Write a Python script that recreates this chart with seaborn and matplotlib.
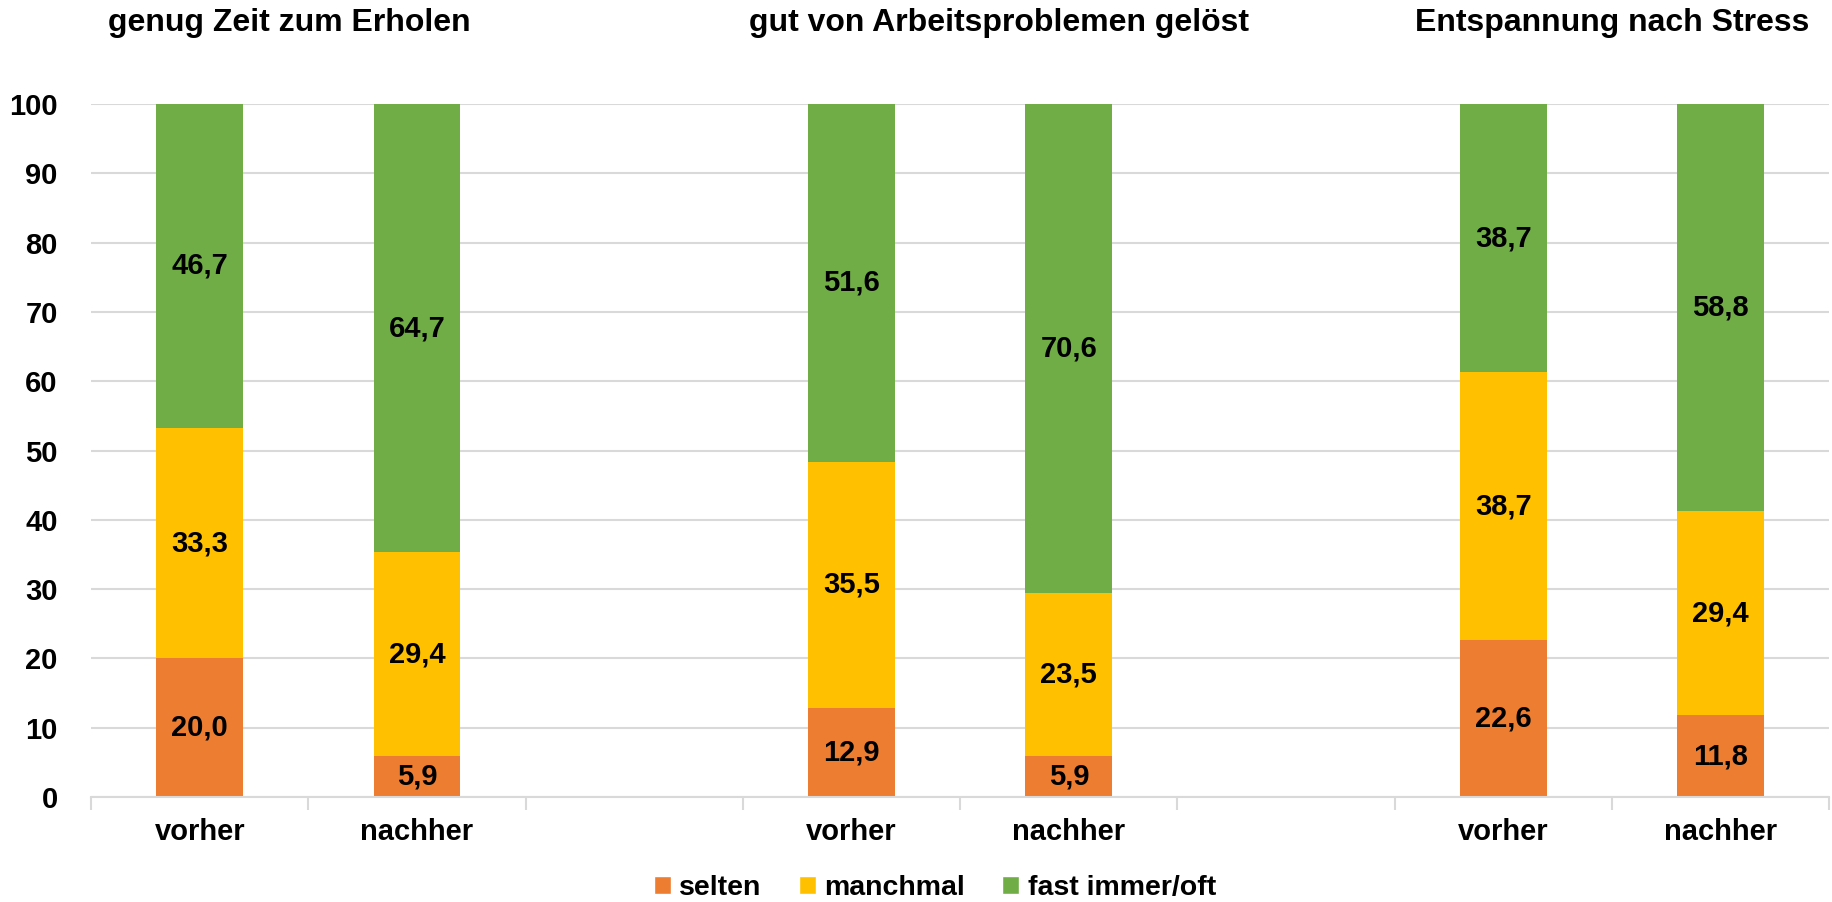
"""Gestapelte Balken: vorher / nachher für drei Erholungs-Items (Prozent)"""

import numpy as np
import pandas as pd
import matplotlib
matplotlib.use('Agg')
import matplotlib.pyplot as plt
import matplotlib.transforms as mtransforms
from matplotlib.patches import Patch
import seaborn as sns

# Daten
gruppen = ['genug Zeit zum Erholen', 'gut von Arbeitsproblemen gelöst', 'Entspannung nach Stress']
zeitpunkte = ['vorher', 'nachher']
selten = [20.0, 5.9, 12.9, 5.9, 22.6, 11.8]
manchmal = [33.3, 29.4, 35.5, 23.5, 38.7, 29.4]
fast_immer = [46.7, 64.7, 51.6, 70.6, 38.7, 58.8]
serien = ['selten', 'manchmal', 'fast immer/oft']
farben = ['#ED7D31', '#FFC000', '#70AD47']

# Slots: je Gruppe vorher, nachher + eine Lücke
slots = []
for g in range(len(gruppen)):
    slots += [f'g{g}_vorher', f'g{g}_nachher']
    if g < len(gruppen) - 1:
        slots.append(f'luecke{g}')
bar_slots = [s for s in slots if not s.startswith('luecke')]

df = pd.DataFrame({'slot': bar_slots, 'selten': selten,
                   'manchmal': manchmal, 'fast': fast_immer})
df['cum1'] = df['selten']
df['cum2'] = df['selten'] + df['manchmal']
df['cum3'] = df['cum2'] + df['fast']

sns.set_style('white')
plt.rcParams['font.family'] = ['Liberation Sans', 'DejaVu Sans']
plt.rcParams['font.weight'] = 'bold'
plt.rcParams['text.color'] = 'black'
plt.rcParams['xtick.color'] = 'black'
plt.rcParams['ytick.color'] = 'black'

fig = plt.figure(figsize=(18.33, 9.02), dpi=100)
ax = fig.add_axes([0.0497, 0.1164, 0.9483, 0.7683])

# gestapelt über überlagerte kumulative Balken
for col, c in zip(['cum3', 'cum2', 'cum1'], farben[::-1]):
    sns.barplot(data=df, x='slot', y=col, order=slots, color=c, width=0.4,
                saturation=1, linewidth=0, ax=ax, zorder=3)

# Werte-Beschriftungen in der Mitte der Segmente
pos = {s: i for i, s in enumerate(slots)}
for _, r in df.iterrows():
    x = pos[r['slot']]
    for lo, val in [(0, r['selten']), (r['cum1'], r['manchmal']), (r['cum2'], r['fast'])]:
        ax.text(x, lo + val / 2, f'{val:.1f}'.replace('.', ','), ha='center', va='center',
                fontsize=21, fontweight='bold', color='black', zorder=5)

ax.set_xlim(-0.5, len(slots) - 0.5)
ax.set_ylim(0, 100)
ax.set_yticks(np.arange(0, 101, 10))
ax.set_xticks(range(len(slots)))
ax.set_xticklabels([s.split('_')[1] if '_' in s else '' for s in slots])
ax.set_xticks(np.arange(-0.5, len(slots), 1), minor=True)
ax.tick_params(axis='x', which='major', length=0, pad=15, labelsize=21)
ax.tick_params(axis='x', which='minor', bottom=True, length=9, width=1.5, color='#D9D9D9')
ax.tick_params(axis='y', length=0, pad=24, labelsize=21)
ax.set_xlabel('')
ax.set_ylabel('')
ax.yaxis.grid(True, color='#D9D9D9', linewidth=1.5, zorder=0)
ax.set_axisbelow(True)
for s in ['left', 'top', 'right']:
    ax.spines[s].set_visible(False)
ax.spines['bottom'].set_color('#D9D9D9')
ax.spines['bottom'].set_linewidth(1.5)
ax.spines['bottom'].set_zorder(4)

# Gruppentitel
trans = mtransforms.blended_transform_factory(ax.transData, fig.transFigure)
for x, t in zip([0.41, 3.68, 6.5], gruppen):
    ax.text(x, 0.974, t, transform=trans, ha='center', va='center',
            fontsize=23, fontweight='bold')

handles = [Patch(facecolor=c, label=l) for c, l in zip(farben, serien)]
fig.legend(handles=handles, loc='center', bbox_to_anchor=(0.51, 0.0155), ncol=3,
           frameon=False, fontsize=20.5, handlelength=0.6, handleheight=0.6,
           handletextpad=0.3, columnspacing=1.3)

fig.savefig('out.png', dpi=100)
